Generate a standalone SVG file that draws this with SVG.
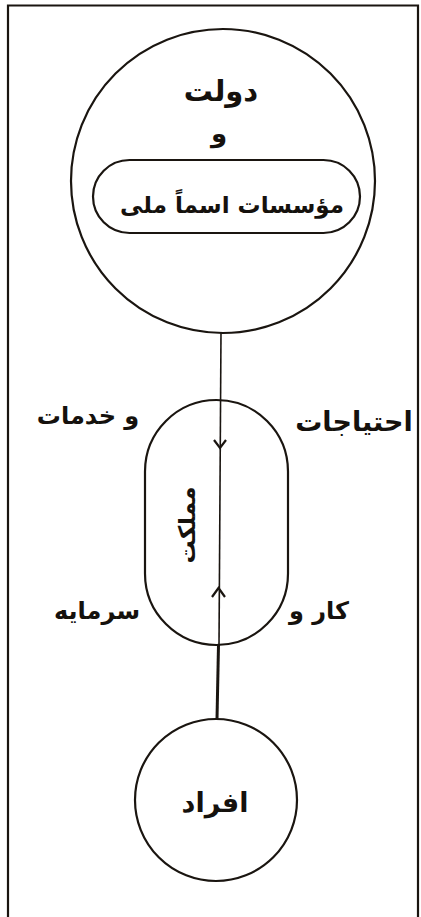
<svg xmlns="http://www.w3.org/2000/svg" width="421" height="917" viewBox="0 0 421 917">
<style>
.ln{fill:none;stroke:#1a1510;stroke-width:2.2}
.t{font-family:"DejaVu Sans",sans-serif;font-weight:bold;fill:#15110d;text-anchor:middle;direction:rtl}
</style>
<rect x="0" y="0" width="421" height="917" fill="#fff"/>
<path class="ln" d="M8,925 V5.5 H418 V925"/>
<g id="state">
<circle class="ln" cx="223" cy="181" r="152"/>
<text class="t" x="221" y="101" font-size="29">دولت</text>
<text class="t" x="219" y="142" font-size="26">و</text>
</g>
<g id="institutions">
<rect class="ln" x="93" y="160" width="267" height="73" rx="36.5"/>
<text class="t" x="232" y="213" font-size="23">مؤسسات اسماً ملی</text>
</g>
<g id="country">
<rect class="ln" x="145" y="400" width="143" height="245" rx="71.5"/>
<text class="t" x="0" y="0" font-size="23" transform="translate(195,525) rotate(-90)">مملکت</text>
</g>
<g id="individuals">
<circle class="ln" cx="216" cy="800" r="81"/>
<text class="t" x="215" y="812" font-size="27">افراد</text>
</g>
<g id="connectors">
<line x1="221" y1="332" x2="219" y2="645" stroke="#1a1510" stroke-width="1.6"/>
<line x1="218.5" y1="645" x2="217" y2="719" stroke="#1a1510" stroke-width="3"/>
<path class="ln" d="M214,440 L220,448 L226,440" stroke-width="2"/>
<path class="ln" d="M212,597 L218.5,588 L225,597" stroke-width="2"/>
</g>
<g id="labels">
<text class="t" x="354" y="431" font-size="27">احتیاجات</text>
<text class="t" x="88" y="424" font-size="24">و خدمات</text>
<text class="t" x="319" y="619" font-size="24">کار و</text>
<text class="t" x="97" y="619" font-size="24">سرمایه</text>
</g>
</svg>
